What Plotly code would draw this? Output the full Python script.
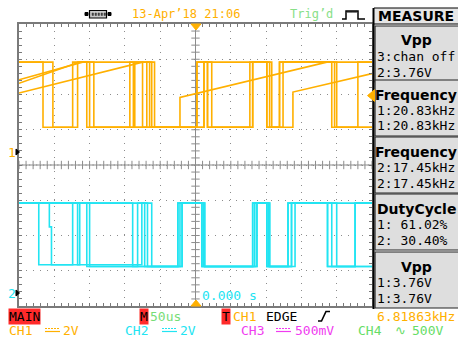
import numpy as np
import plotly.graph_objects as go

# ---------------- data (time in us, voltage in V) ----------------
time_range_us = [-250, 250]          # 50 us/div, 10 divisions
us_per_div = 50
volts_per_div = 2
ch1_ground_div = 0.369               # CH1 ground marker, divisions above centre
ch2_ground_div = -3.631              # CH2 ground marker, divisions below centre
trigger_level_v = 3.2

# CH1 (orange) persistent sweeps
ch1_a_t = [-250, -216, -216, -167, -167, -154, -154, -69, -69, -62, -62, -22, -22, 186, 250]
ch1_a_v = [5.1, 5.1, 1.4, 1.4, 5.1, 5.1, 1.4, 1.4, 5.1, 5.1, 1.4, 1.4, 3.1, 5.1, 5.1]
ch1_b_t = [-250, -160, -150, -150, -93, -93, -58, -58, 2, 2, 23, 23, 77, 77, 105, 105, 124, 124, 193, 193, 230, 230, 250]
ch1_b_v = [4.1, 5.1, 5.1, 1.4, 1.4, 5.1, 5.1, 1.4, 1.4, 5.1, 5.1, 1.4, 1.4, 5.1, 5.1, 1.4, 1.4, 5.1, 5.1, 1.4, 1.4, 5.1, 5.1]
ch1_c_t = [-250, -164, -144, -144, -86, -86, -75, -75, 12, 12, 17, 17, 81, 81, 108, 108, 119, 119, 197, 197, 250]
ch1_c_v = [3.9, 5.1, 5.1, 1.4, 1.4, 5.1, 5.1, 1.4, 1.4, 5.1, 5.1, 1.4, 1.4, 5.1, 5.1, 1.4, 1.4, 5.1, 5.1, 1.4, 1.4]
ch1_d_t = [-250, -75, -65, -65, 2, 2, 101, 101, 138, 138, 250]
ch1_d_v = [3.35, 5.1, 5.1, 1.4, 1.4, 5.1, 5.1, 1.4, 1.4, 3.4, 4.45]
ch1_e_t = [-250, -202, -202, -174, -174, -88, -88, 12, 12, 17, 17, 81, 81, 101, 101, 119, 119, 200, 200, 250]
ch1_e_v = [5.1, 5.1, 1.4, 1.4, 5.1, 5.1, 1.4, 1.4, 5.1, 5.1, 1.4, 1.4, 5.1, 5.1, 1.4, 1.4, 5.1, 5.1, 1.4, 1.4]

# CH2 (cyan) persistent sweeps
ch2_a_t = [-250, -222, -222, -174, -174, -89, -89, -25, -25, 9, 9, 81, 81, 101, 101, 131, 131, 187, 187, 226, 226, 250]
ch2_a_v = [5.1, 5.1, 1.6, 1.6, 5.1, 5.1, 1.5, 1.5, 5.1, 5.1, 1.5, 1.5, 5.1, 5.1, 1.5, 1.5, 5.1, 5.1, 1.5, 1.5, 5.1, 5.1]
ch2_b_t = [-250, -207, -207, -204, -204, -164, -164, -150, -150, -19, -19, 13, 13, 87, 87, 105, 105, 136, 136, 200, 200, 250]
ch2_b_v = [5.1, 5.1, 3.75, 3.75, 1.6, 1.6, 5.1, 5.1, 1.5, 1.5, 5.1, 5.1, 1.5, 1.5, 5.1, 5.1, 1.5, 1.5, 5.1, 5.1, 1.5, 1.5]
ch2_c_t = [-250, -154, -154, -82, -82, -72, -72, -22, -22, 11, 11, 84, 84, 103, 103, 141, 141, 193, 193, 250]
ch2_c_v = [5.1, 5.1, 1.5, 1.5, 5.1, 5.1, 1.5, 1.5, 5.1, 5.1, 1.5, 1.5, 5.1, 5.1, 1.5, 1.5, 5.1, 5.1, 1.5, 1.5]
ch2_d_t = [-250, -68, -68, -25, -25, 9, 9, 87, 87, 101, 101, 131, 131, 250]
ch2_d_v = [5.1, 5.1, 1.5, 1.5, 5.1, 5.1, 1.5, 1.5, 5.1, 5.1, 1.5, 1.5, 5.1, 5.1]
ch2_e_t = [-250, -167, -167, -76, -76, -62, -62, -19, -19, 13, 13, 81, 81, 105, 105, 136, 136, 187, 187, 226, 226, 250]
ch2_e_v = [5.1, 5.1, 1.6, 1.6, 5.1, 5.1, 1.5, 1.5, 5.1, 5.1, 1.5, 1.5, 5.1, 5.1, 1.5, 1.5, 5.1, 5.1, 1.5, 1.5, 5.1, 5.1]

meas_titles = ["Vpp", "Frequency", "Frequency", "DutyCycle", "Vpp"]
meas_line1 = ["3:chan off", "1:20.83kHz", "2:17.45kHz", "1: 61.02%", "1:3.76V"]
meas_line2 = ["2:3.76V", "1:20.83kHz", "2:17.45kHz", "2: 30.40%", "1:3.76V"]

# ---------------- styling ----------------
W, H = 458, 341
ML, MR, MT, MB = 19, 86, 24, 35
PW, PH = W - ML - MR, H - MT - MB
ORANGE = "#ffb000"
CYAN = "#22e4f2"
GREEN = "#77dd77"
MAGENTA = "#f03cf0"
RED = "#ff2a2a"
GRID = "#8c8c8c"
BORDER = "#7a7a7a"
MONO = "DejaVu Sans Mono"
BOLD = "DejaVu Sans"


def X(px):
    return (px - ML) / PW


def Y(py):
    return (H - MB - py) / PH


ch1_center = -ch1_ground_div * volts_per_div
ch2_center = -ch2_ground_div * volts_per_div

fig = go.Figure()

# centre cross-hair ticks of the graticule
xs = np.arange(time_range_us[0], time_range_us[1] + 1, us_per_div / 5)
fig.add_trace(go.Scatter(x=xs, y=[ch1_center] * len(xs), mode="markers",
                         marker=dict(symbol="cross-thin", size=6, line=dict(color=GRID, width=1)),
                         hoverinfo="skip", showlegend=False))
ys = ch1_center + np.arange(-4, 4.01, 0.2) * volts_per_div
fig.add_trace(go.Scatter(x=[0] * len(ys), y=ys, mode="markers",
                         marker=dict(symbol="cross-thin", size=6, line=dict(color=GRID, width=1)),
                         hoverinfo="skip", showlegend=False))

for t, v in [(ch1_a_t, ch1_a_v), (ch1_b_t, ch1_b_v), (ch1_c_t, ch1_c_v), (ch1_d_t, ch1_d_v), (ch1_e_t, ch1_e_v)]:
    fig.add_trace(go.Scatter(x=t, y=v, mode="lines", line=dict(color=ORANGE, width=1.6),
                             yaxis="y", hoverinfo="skip", showlegend=False))
for t, v in [(ch2_a_t, ch2_a_v), (ch2_b_t, ch2_b_v), (ch2_c_t, ch2_c_v), (ch2_d_t, ch2_d_v), (ch2_e_t, ch2_e_v)]:
    fig.add_trace(go.Scatter(x=t, y=v, mode="lines", line=dict(color=CYAN, width=1.6),
                             yaxis="y2", hoverinfo="skip", showlegend=False))

ax_common = dict(showgrid=True, gridcolor=GRID, gridwidth=1, griddash="1px,6px", zeroline=False,
                 showticklabels=False, showline=True, linecolor=BORDER, linewidth=1.5,
                 mirror="allticks", ticks="inside", ticklen=3, tickcolor=BORDER, tickwidth=1,
                 fixedrange=True)

annotations = []


def txt(s, x, y, color, size=13, family=MONO, xanchor="left", bg=None):
    annotations.append(dict(text=s, x=X(x), y=Y(y), xref="paper", yref="paper", xanchor=xanchor,
                            yanchor="middle", showarrow=False, bgcolor=bg, borderpad=0,
                            font=dict(family=family, size=size, color=color)))


shapes = []


def rect(x0, y0, x1, y1, fill, line="black", lw=1):
    shapes.append(dict(type="rect", xref="paper", yref="paper", x0=X(x0), x1=X(x1), y0=Y(y1), y1=Y(y0),
                       fillcolor=fill, line=dict(color=line, width=lw), layer="above"))


def path(pts, color, lw=1.5, fill=None, close=False):
    d = "M " + " L ".join(f"{X(a):.5f},{Y(b):.5f}" for a, b in pts) + (" Z" if close else "")
    shapes.append(dict(type="path", xref="paper", yref="paper", path=d,
                       line=dict(color=color, width=lw), fillcolor=fill, layer="above"))


# top bar
txt("13-Apr’18 21:06", 131, 14, ORANGE, size=12)
txt("Trig’d", 289, 14, "#88e088", size=12)
path([(342, 19), (346, 19), (346, 11), (358, 11), (358, 19), (365, 19)], "black", 1.5)
for px in range(348, 357, 2):
    path([(px, 11), (px, 13)], "black", 1)
# usb icon
rect(85, 12.5, 88, 15.5, "black", "black")
rect(108, 12.5, 111, 15.5, "black", "black")
rect(89.5, 10.5, 106.5, 18, "#c8c8c8", "black", 1.2)
for px in range(92, 105, 3):
    rect(px, 13, px + 1.5, 15.5, "#404040", "#404040", 0.5)

# measure panel
shapes.append(dict(type="line", xref="paper", yref="paper", x0=X(373.5), x1=X(373.5), y0=Y(8), y1=Y(309),
                   line=dict(color="black", width=2), layer="above"))
rect(374, 8, 459, 24, "#e6e6e6", "black", 1)
txt("<b>MEASURE</b>", 416, 16.5, "black", size=14, family=BOLD, xanchor="center")
box_tops = [26, 80, 137, 194, 252]
box_h = 56
for i, top in enumerate(box_tops):
    rect(375, top, 459, top + box_h, "#dedede", "#222222", 1.2)
    txt(f"<b>{meas_titles[i]}</b>", 416, top + 14.5, "black", size=14, family=BOLD, xanchor="center")
    txt(meas_line1[i], 376, top + 30.5, "black", size=13)
    txt(meas_line2[i], 376, top + 46, "black", size=13)

# graticule markers
path([(191, 24), (201, 24), (196, 30)], ORANGE, 1, fill=ORANGE, close=True)
path([(191, 306), (201, 306), (196, 300)], ORANGE, 1, fill=ORANGE, close=True)
shapes.append(dict(type="path", xref="paper", yref="y",
                   path=f"M {X(374.5)},{trigger_level_v + 0.33} L {X(374.5)},{trigger_level_v - 0.33} L {X(367.5)},{trigger_level_v} Z",
                   line=dict(color=ORANGE, width=1), fillcolor=ORANGE, layer="above"))
txt("1", 7, 152, ORANGE, size=13)
path([(16, 149), (16, 155), (19.5, 152)], "black", 1, fill="black", close=True)
txt("2", 7, 293, CYAN, size=13)
path([(16, 290), (16, 296), (19.5, 293)], "black", 1, fill="black", close=True)
txt("0.000 s", 201, 295, CYAN, size=13)

# bottom status rows
r1, r2 = 316, 330
txt("MAIN", 8, r1, "black", size=13, bg=RED)
txt("M", 139, r1, "black", size=13, bg=RED)
txt("50us", 149, r1, GREEN, size=13)
txt("T", 221, r1, "black", size=13, bg=RED)
txt("CH1", 232, r1, ORANGE, size=13)
txt("EDGE", 265, r1, "black", size=13)
path([(318, 321), (321.5, 321), (326, 311.5), (330, 311.5)], "black", 1.6)
txt("6.81863kHz", 376, r1, ORANGE, size=13)


def dc_symbol(x0, color):
    shapes.append(dict(type="line", xref="paper", yref="paper", x0=X(x0), x1=X(x0 + 15), y0=Y(r2 - 1.5),
                       y1=Y(r2 - 1.5), line=dict(color=color, width=1.2, dash="2px,1px"), layer="above"))
    shapes.append(dict(type="line", xref="paper", yref="paper", x0=X(x0), x1=X(x0 + 15), y0=Y(r2 + 1.5),
                       y1=Y(r2 + 1.5), line=dict(color=color, width=1.2), layer="above"))


txt("CH1", 8, r2, ORANGE, size=13)
dc_symbol(45, ORANGE)
txt("2V", 62, r2, ORANGE, size=13)
txt("CH2", 124, r2, CYAN, size=13)
dc_symbol(162, CYAN)
txt("2V", 179, r2, CYAN, size=13)
txt("CH3", 240, r2, MAGENTA, size=13)
dc_symbol(276, MAGENTA)
txt("500mV", 294, r2, MAGENTA, size=13)
txt("CH4", 357, r2, "#66dd66", size=13)
txt("∿", 400, r2, "#66dd66", size=13, family="DejaVu Sans", xanchor="center")
txt("500V", 411, r2, "#66dd66", size=13)

fig.update_layout(
    width=W, height=H,
    margin=dict(l=ML, r=MR, t=MT, b=MB, pad=0),
    paper_bgcolor="white", plot_bgcolor="white",
    showlegend=False,
    xaxis=dict(range=time_range_us, dtick=us_per_div, tick0=0,
               minor=dict(dtick=us_per_div / 5, tick0=0, ticks="inside", ticklen=3, tickcolor=BORDER, showgrid=False),
               **ax_common),
    yaxis=dict(range=[ch1_center - 4 * volts_per_div, ch1_center + 4 * volts_per_div],
               dtick=volts_per_div, tick0=ch1_center,
               minor=dict(dtick=volts_per_div / 5, tick0=ch1_center, ticks="inside", ticklen=3, tickcolor=BORDER, showgrid=False),
               **ax_common),
    yaxis2=dict(range=[ch2_center - 4 * volts_per_div, ch2_center + 4 * volts_per_div],
                overlaying="y", visible=False, fixedrange=True),
    annotations=annotations,
    shapes=shapes,
)

fig.write_html("out.html", config={"displayModeBar": False},
               post_script="document.body.style.margin='0';document.body.style.overflow='hidden';")
